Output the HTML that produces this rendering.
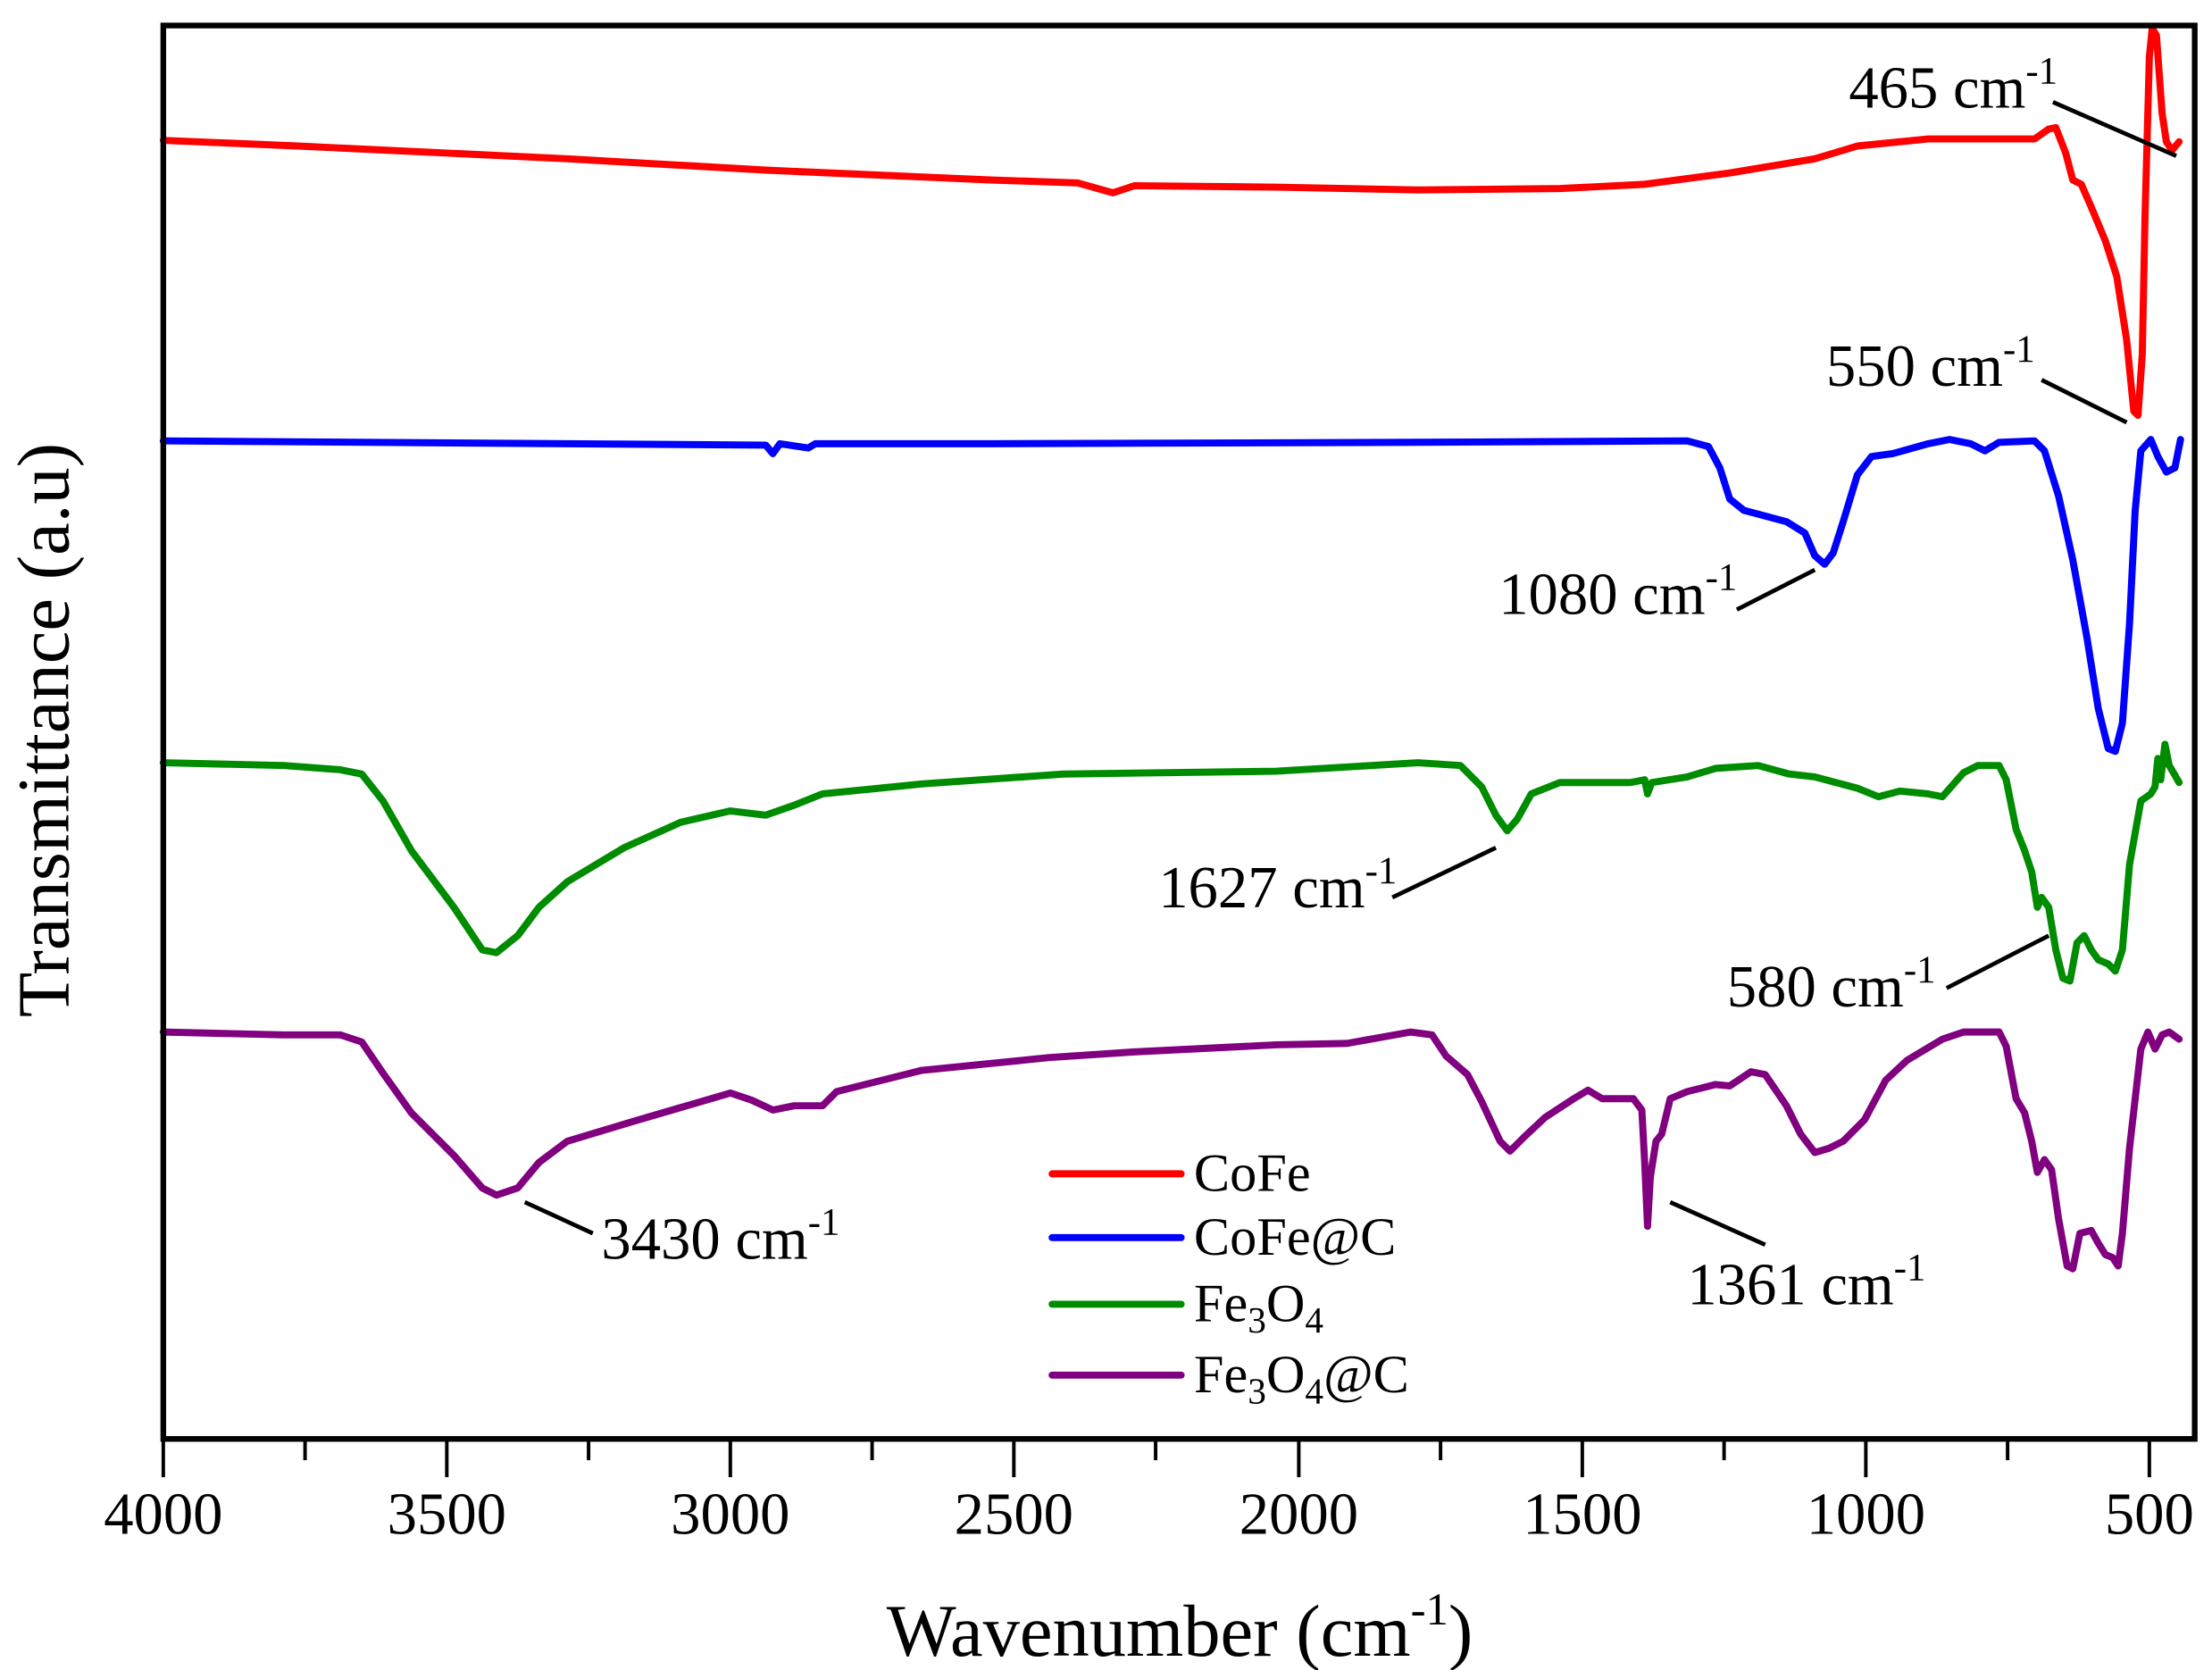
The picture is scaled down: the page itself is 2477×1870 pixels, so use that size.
<!DOCTYPE html>
<html><head><meta charset="utf-8"><style>
html,body{margin:0;padding:0;background:#fff;}
svg{display:block;}
text{font-family:"Liberation Serif",serif;fill:#000;}
</style></head><body>
<svg width="2477" height="1870" viewBox="0 0 1560 1178" xmlns="http://www.w3.org/2000/svg">
<g fill="none" stroke-width="5" stroke-linejoin="round" stroke-linecap="round">
<polyline stroke="#ff0000" points="115,99 210,103 400,112 540,120 700,127 760,129 785,136 800,131 900,132 1000,134 1100,133 1160,130 1220,122 1280,112 1310,103 1360,98 1435,98 1445,91 1450,90 1457,108 1462,127 1468,130 1475,146 1485,170 1493,195 1500,240 1505,290 1508,293 1511,250 1513,150 1516,40 1518,20 1521,25 1525,80 1528,100 1532,106 1537,100"/>
<polyline stroke="#0000ff" points="115,311 400,313 540,314 545,320 550,313 570,316 575,313 700,313 1000,312 1190,311 1205,315 1213,330 1220,352 1230,360 1260,368 1273,376 1280,392 1287,398 1293,390 1300,368 1310,335 1320,322 1335,320 1360,313 1375,310 1390,313 1400,318 1410,312 1435,311 1442,318 1452,350 1462,395 1472,450 1480,500 1487,528 1492,530 1497,510 1502,440 1506,360 1510,318 1517,310 1522,322 1528,333 1534,330 1538,310"/>
<polyline stroke="#008c00" points="115,538 200,540 240,543 255,546 270,565 290,600 320,640 340,670 350,672 365,660 380,640 400,622 440,598 480,580 515,572 540,575 560,568 580,560 650,553 750,546 900,544 950,541 1000,538 1030,540 1045,555 1055,575 1063,586 1070,578 1080,560 1100,552 1150,552 1160,550 1162,560 1165,552 1190,548 1210,542 1240,540 1262,546 1280,548 1310,556 1325,562 1340,558 1360,560 1370,562 1385,545 1395,540 1410,540 1415,550 1422,585 1428,600 1433,615 1437,640 1440,633 1445,640 1450,670 1455,690 1460,692 1465,665 1470,660 1475,670 1480,677 1487,680 1492,685 1497,670 1502,610 1510,565 1517,560 1520,555 1522,535 1524,550 1527,525 1530,540 1533,545 1537,552"/>
<polyline stroke="#800080" points="115,728 200,730 240,730 255,735 270,757 290,785 320,815 340,838 350,843 365,838 380,820 400,805 450,790 515,771 530,776 545,783 560,780 580,780 590,770 650,755 740,746 800,742 900,737 950,736 995,728 1010,730 1020,745 1035,758 1045,777 1058,805 1065,812 1075,802 1090,788 1110,775 1120,769 1130,775 1140,775 1152,775 1158,783 1160,820 1162,865 1164,830 1168,805 1172,800 1178,775 1190,770 1210,765 1220,766 1235,756 1245,758 1260,780 1270,800 1280,813 1290,810 1300,805 1315,790 1330,762 1345,748 1370,733 1385,728 1410,728 1415,738 1422,775 1428,785 1433,805 1437,827 1442,818 1447,825 1452,860 1458,893 1462,895 1467,870 1475,868 1480,877 1485,885 1490,887 1494,893 1497,870 1502,810 1510,740 1515,728 1520,740 1525,730 1530,728 1537,733"/>
</g>
<rect x="115" y="18" width="1433" height="997" fill="none" stroke="#000" stroke-width="4"/>
<g stroke="#000" stroke-width="2.5">
<line x1="115" y1="1015" x2="115" y2="1042"/><line x1="215" y1="1015" x2="215" y2="1030"/>
<line x1="315" y1="1015" x2="315" y2="1042"/><line x1="415" y1="1015" x2="415" y2="1030"/>
<line x1="515" y1="1015" x2="515" y2="1042"/><line x1="615" y1="1015" x2="615" y2="1030"/>
<line x1="715" y1="1015" x2="715" y2="1042"/><line x1="815" y1="1015" x2="815" y2="1030"/>
<line x1="916" y1="1015" x2="916" y2="1042"/><line x1="1016" y1="1015" x2="1016" y2="1030"/>
<line x1="1116" y1="1015" x2="1116" y2="1042"/><line x1="1216" y1="1015" x2="1216" y2="1030"/>
<line x1="1316" y1="1015" x2="1316" y2="1042"/><line x1="1416" y1="1015" x2="1416" y2="1030"/>
<line x1="1516" y1="1015" x2="1516" y2="1042"/>
</g>
<g font-size="42" text-anchor="middle">
<text x="115" y="1082">4000</text><text x="315" y="1082">3500</text><text x="515" y="1082">3000</text>
<text x="715" y="1082">2500</text><text x="916" y="1082">2000</text><text x="1116" y="1082">1500</text>
<text x="1316" y="1082">1000</text><text x="1516" y="1082">500</text>
</g>
<text x="832" y="1168" font-size="52" text-anchor="middle">Wavenumber (cm<tspan font-size="32" dy="-22">-1</tspan><tspan dy="22">)</tspan></text>
<text transform="translate(48,515) rotate(-90)" font-size="52" text-anchor="middle">Transmittance (a.u)</text>
<g stroke-width="5" stroke-linecap="round">
<line x1="742" y1="828" x2="833" y2="828" stroke="#ff0000"/>
<line x1="742" y1="873" x2="833" y2="873" stroke="#0000ff"/>
<line x1="742" y1="920" x2="833" y2="920" stroke="#008c00"/>
<line x1="742" y1="970" x2="833" y2="970" stroke="#800080"/>
</g>
<g font-size="38">
<text x="842" y="840">CoFe</text>
<text x="842" y="885">CoFe@C</text>
<text x="842" y="932">Fe<tspan font-size="26" dy="8">3</tspan><tspan dy="-8">O</tspan><tspan font-size="26" dy="8">4</tspan></text>
<text x="842" y="982">Fe<tspan font-size="26" dy="8">3</tspan><tspan dy="-8">O</tspan><tspan font-size="26" dy="8">4</tspan><tspan dy="-8">@C</tspan></text>
</g>
<g stroke="#000" stroke-width="3">
<line x1="1448" y1="72" x2="1535" y2="110"/>
<line x1="1440" y1="268" x2="1500" y2="298"/>
<line x1="1225" y1="430" x2="1280" y2="402"/>
<line x1="982" y1="633" x2="1055" y2="598"/>
<line x1="1373" y1="697" x2="1445" y2="660"/>
<line x1="370" y1="848" x2="418" y2="870"/>
<line x1="1178" y1="848" x2="1245" y2="878"/>
</g>
<g font-size="42">
<text x="1304" y="76">465 cm<tspan font-size="27" dy="-17">-1</tspan></text>
<text x="1288" y="272">550 cm<tspan font-size="27" dy="-17">-1</tspan></text>
<text x="1057" y="433">1080 cm<tspan font-size="27" dy="-17">-1</tspan></text>
<text x="817" y="640">1627 cm<tspan font-size="27" dy="-17">-1</tspan></text>
<text x="1218" y="710">580 cm<tspan font-size="27" dy="-17">-1</tspan></text>
<text x="424" y="888">3430 cm<tspan font-size="27" dy="-17">-1</tspan></text>
<text x="1190" y="920">1361 cm<tspan font-size="27" dy="-17">-1</tspan></text>
</g>
</svg>
</body></html>
